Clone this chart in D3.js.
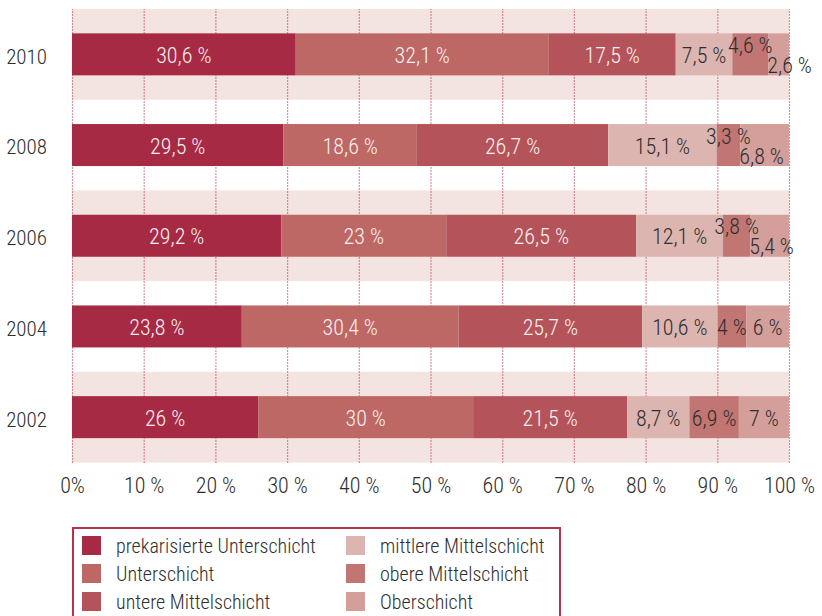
<!DOCTYPE html>
<html lang="de">
<head>
  <meta charset="UTF-8">
  <title>Schichten 2002–2010</title>
  <style>
    body {
      margin: 0;
      background: #fff;
    }
    svg text {
      font-family: "Roboto Condensed", "Liberation Sans Narrow", "Open Sans", sans-serif;
      font-weight: 300;
      font-size: 22px;
      fill: #2e2e2e;
    }
    .grid line {
      stroke: #b02a48;
      stroke-width: 1.2;
      stroke-dasharray: 1 2;
    }
    .grid path { display: none; }
  </style>
  <script src="https://d3js.org/d3.v7.min.js"></script>
</head>
<body>

<svg id="chart"></svg>

<script>
  // Data (percent labels as printed)
  const years = ["2010", "2008", "2006", "2004", "2002"];
  const categories = [
    "prekarisierte Unterschicht", "Unterschicht", "untere Mittelschicht",
    "mittlere Mittelschicht", "obere Mittelschicht", "Oberschicht"
  ];
  const prekarisiert   = [30.6, 29.5, 29.2, 23.8, 26];
  const unterschicht   = [32.1, 18.6, 23, 30.4, 30];
  const untereMittel   = [17.5, 26.7, 26.5, 25.7, 21.5];
  const mittlereMittel = [7.5, 15.1, 12.1, 10.6, 8.7];
  const obereMittel    = [4.6, 3.3, 3.8, 4, 6.9];
  const oberschicht    = [2.6, 6.8, 5.4, 6, 7];
  // bar lengths of 2010 as drawn in the picture (they do not follow the printed labels)
  const bars2010 = [31.2, 35.3, 17.7, 7.9, 5.0, 2.9];
  const tickValues = [0, 10, 20, 30, 40, 50, 60, 70, 80, 90, 100];
  const tickLabels = ["0%", "10 %", "20 %", "30 %", "40 %", "50 %", "60 %", "70 %", "80 %", "90 %", "100 %"];

  const colors = ["#a62a44", "#bd6865", "#b4545a", "#ddb5b0", "#c27673", "#d49f9b"];
  const series = [prekarisiert, unterschicht, untereMittel, mittlereMittel, obereMittel, oberschicht];

  const W = 822, H = 616;
  const plot = {left: 72, right: 789, top: 9, bottom: 462.5};
  const barH = 42;

  const svg = d3.select("#chart")
    .attr("width", W)
    .attr("height", H);

  // Table for the stack
  const table = years.map((yr, i) => {
    const row = {year: yr};
    categories.forEach((c, j) => {
      row[c] = i === 0 ? bars2010[j] : series[j][i];
      row["label_" + c] = series[j][i];
    });
    return row;
  });

  const stack = d3.stack()
    .keys(categories)
    .offset(d3.stackOffsetExpand);
  const stacked = stack(table);

  const x = d3.scaleLinear().domain([0, 100]).range([plot.left, plot.right]);
  const y = d3.scaleBand().domain(years).range([plot.top, plot.bottom]).padding(0);

  // Alternating background bands
  svg.append("g")
    .selectAll("rect")
    .data(years.filter((d, i) => i % 2 === 0))
    .join("rect")
    .attr("x", x(0))
    .attr("y", d => y(d))
    .attr("width", x(100) - x(0))
    .attr("height", y.bandwidth())
    .attr("fill", "#f3e4e1");

  // Dotted grid + tick labels
  const axis = svg.append("g")
    .attr("class", "grid")
    .attr("transform", `translate(0,${plot.bottom})`)
    .call(d3.axisBottom(x)
      .tickValues(tickValues)
      .tickSize(-(plot.bottom - plot.top))
      .tickPadding(15)
      .tickFormat((d, i) => tickLabels[i]));
  axis.selectAll("text")
    .attr("fill", null)
    .style("font-size", "22px");

  // Bars
  const barOff = (y.bandwidth() - barH) / 2;
  const layers = svg.append("g")
    .selectAll("g")
    .data(stacked)
    .join("g")
    .attr("fill", (d, i) => colors[i]);

  layers.selectAll("rect")
    .data(d => d)
    .join("rect")
    .attr("x", d => x(d[0] * 100))
    .attr("y", d => y(d.data.year) + barOff)
    .attr("width", d => x(d[1] * 100) - x(d[0] * 100))
    .attr("height", barH);

  // Segment labels
  const fmt = v => String(v).replace(".", ",") + " %";
  const labelG = svg.append("g");
  years.forEach((yr, i) => {
    const cy = y(yr) + y.bandwidth() / 2 + 1;
    const texts = stacked.map((layer, j) => {
      const seg = layer[i];
      const x0 = x(seg[0] * 100), x1 = x(seg[1] * 100);
      const t = labelG.append("text")
        .attr("x", (x0 + x1) / 2)
        .attr("y", cy)
        .attr("dy", "0.35em")
        .attr("text-anchor", "middle")
        .style("fill", j < 3 ? "#fbeff0" : "#2e2e2e")
        .text(fmt(seg.data["label_" + categories[j]]));
      return {t, x0, x1};
    });
    // narrow segments: lift the fifth label, drop the last one
    const fifth = texts[4];
    if (fifth.t.node().getComputedTextLength() > (fifth.x1 - fifth.x0) + 3) {
      fifth.t.attr("y", cy - 10);
      texts[5].t.attr("y", cy + 10)
        .attr("x", texts[5].x0 - 1)
        .attr("text-anchor", "start");
    }
  });

  // Year labels
  svg.append("g")
    .selectAll("text")
    .data(years)
    .join("text")
    .attr("x", 47)
    .attr("y", d => y(d) + y.bandwidth() / 2 + 2)
    .attr("dy", "0.35em")
    .attr("text-anchor", "end")
    .style("font-size", "21px")
    .text(d => d);

  // Legend
  const legend = svg.append("g");
  legend.append("rect")
    .attr("x", 73)
    .attr("y", 528)
    .attr("width", 487)
    .attr("height", 110)
    .attr("fill", "none")
    .attr("stroke", "#b8324e")
    .attr("stroke-width", 2);

  const items = legend.selectAll("g")
    .data(categories)
    .join("g")
    .attr("transform", (d, i) => `translate(${i < 3 ? 82 : 346},${536 + (i % 3) * 28})`);
  items.append("rect")
    .attr("width", 19)
    .attr("height", 19)
    .attr("fill", (d, i) => colors[i]);
  items.append("text")
    .attr("x", 34)
    .attr("y", 10)
    .attr("dy", "0.35em")
    .style("font-size", "20px")
    .text(d => d);
</script>

</body>
</html>
